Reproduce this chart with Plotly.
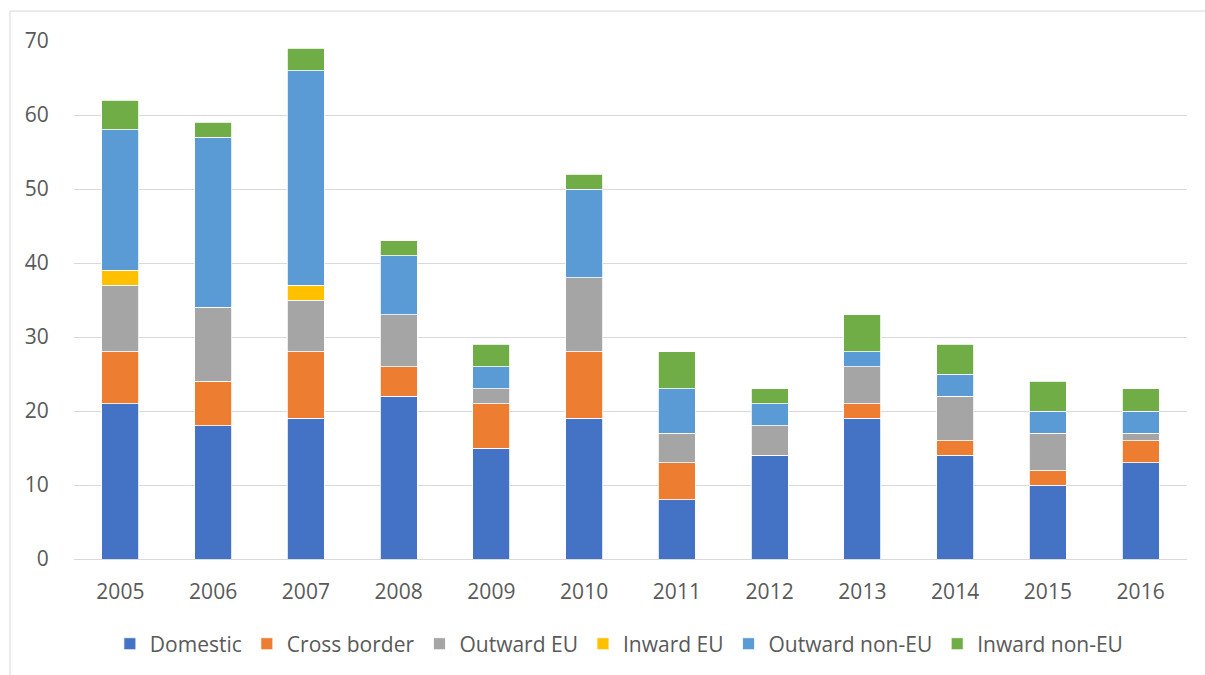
import plotly.graph_objects as go

years = ["2005", "2006", "2007", "2008", "2009", "2010", "2011", "2012", "2013", "2014", "2015", "2016"]
domestic = [21, 18, 19, 22, 15, 19, 8, 14, 19, 14, 10, 13]
cross_border = [7, 6, 9, 4, 6, 9, 5, 0, 2, 2, 2, 3]
outward_eu = [9, 10, 7, 7, 2, 10, 4, 4, 5, 6, 5, 1]
inward_eu = [2, 0, 2, 0, 0, 0, 0, 0, 0, 0, 0, 0]
outward_non_eu = [19, 23, 29, 8, 3, 12, 6, 3, 2, 3, 3, 3]
inward_non_eu = [4, 2, 3, 2, 3, 2, 5, 2, 5, 4, 4, 3]

series = [
    ("Domestic", domestic, "#4472C4"),
    ("Cross border", cross_border, "#ED7D31"),
    ("Outward EU", outward_eu, "#A5A5A5"),
    ("Inward EU", inward_eu, "#FFC000"),
    ("Outward non-EU", outward_non_eu, "#5B9BD5"),
    ("Inward non-EU", inward_non_eu, "#70AD47"),
]

fig = go.Figure()
for name, vals, col in series:
    fig.add_trace(go.Bar(
        x=years, y=vals, name=name,
        marker=dict(color=col, line=dict(color="white", width=0.8)),
    ))

font = dict(family="Open Sans", size=21, color="#595959")
L, T, W, H = 74, 41, 1113, 519
fig.update_layout(
    width=1205, height=675,
    margin=dict(l=L, r=1205 - L - W, t=T, b=675 - T - H),
    barmode="stack", bargap=0.6,
    plot_bgcolor="white", paper_bgcolor="white",
    font=font,
    xaxis=dict(showgrid=False, ticks="outside", ticklen=14, tickcolor="rgba(0,0,0,0)",
               showline=False, tickfont=font),
    yaxis=dict(range=[0, 70], dtick=10, showgrid=True, gridcolor="#D9D9D9", gridwidth=1,
               zeroline=True, zerolinecolor="#D9D9D9", zerolinewidth=1,
               ticks="outside", ticklen=20, tickcolor="rgba(0,0,0,0)", tickfont=font),
    legend=dict(orientation="h", x=0.49, xanchor="center", y=-0.162, yanchor="middle",
                font=font, traceorder="normal", itemclick=False),
    shapes=[dict(type="rect", xref="paper", yref="paper",
                 x0=(10 - L) / W, x1=1.2, y0=-0.5, y1=(T + H - 11) / H,
                 line=dict(color="#D9D9D9", width=1), fillcolor="rgba(0,0,0,0)", layer="below")],
)

fig.write_html("out.html")
